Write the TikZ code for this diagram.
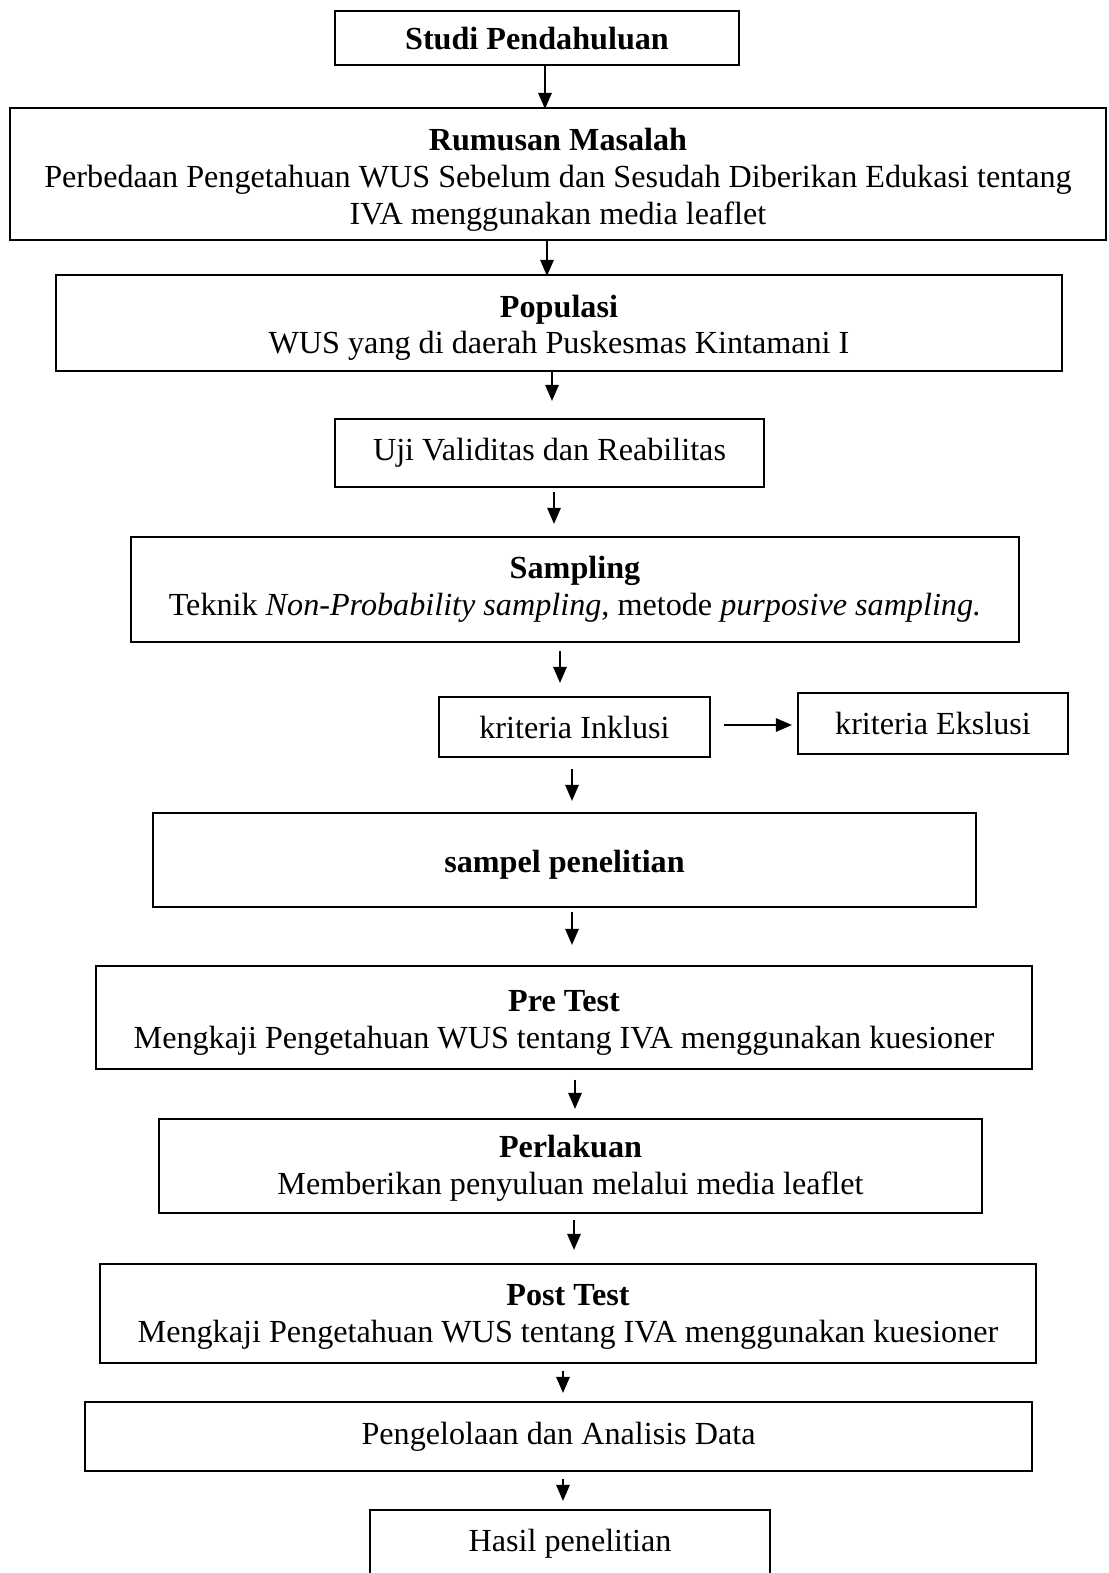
\documentclass[tikz,border=0pt]{standalone}
\usepackage{fontspec}
\setmainfont{Liberation Serif}
\usepackage{tikz}
\usetikzlibrary{arrows.meta,positioning}

\def\unitpx{0.373pt}
% teks di dalam kotak sedikit diturunkan
\newcommand\turun[2][1.9pt]{\raisebox{-#1}[\height][\depth]{\begin{tabular}{@{}c@{}}#2\end{tabular}}}

\tikzset{
  box/.style = {draw, line width=0.7pt, align=center, inner sep=0pt},
  arr/.style = {-{Triangle[length=6pt,width=5pt]}, line width=0.7pt}
}

\begin{document}
\begin{tikzpicture}[x=0.373pt, y=-0.373pt, font=\fontsize{12}{13.8}\selectfont]
\clip (0,0) rectangle (1109,1573);

\node[box, minimum width=404*\unitpx, minimum height=54*\unitpx] (studi) at (537,38)
  {\turun[1.5pt]{\textbf{Studi Pendahuluan}}};
\node[box, minimum width=1096*\unitpx, minimum height=132*\unitpx] (rumusan) at (558,174)
  {\turun[2.2pt]{\textbf{Rumusan Masalah}\\
   Perbedaan Pengetahuan WUS Sebelum dan Sesudah Diberikan Edukasi tentang\\
   IVA menggunakan media leaflet}};
\node[box, minimum width=1006*\unitpx, minimum height=96*\unitpx] (populasi) at (559,323)
  {\turun{\textbf{Populasi}\\ WUS yang di daerah Puskesmas Kintamani I}};
\node[box, minimum width=429*\unitpx, minimum height=68*\unitpx] (uji) at (549.5,453)
  {Uji Validitas dan Reabilitas};
\node[box, minimum width=888*\unitpx, minimum height=105*\unitpx] (sampling) at (575,589.5)
  {\textbf{Sampling}\\ Teknik \textit{Non-Probability sampling}, metode \textit{purposive sampling.}};
\node[box, minimum width=271*\unitpx, minimum height=60*\unitpx] (inklusi) at (574.5,727)
  {kriteria Inklusi};
\node[box, minimum width=270*\unitpx, minimum height=61*\unitpx] (ekslusi) at (933,723.5)
  {kriteria Ekslusi};
\node[box, minimum width=823*\unitpx, minimum height=94*\unitpx] (sampel) at (564.5,860)
  {\turun{\textbf{sampel penelitian}}};
\node[box, minimum width=936*\unitpx, minimum height=103*\unitpx] (pretest) at (564,1017.5)
  {\turun{\textbf{Pre Test}\\ Mengkaji Pengetahuan WUS tentang IVA menggunakan kuesioner}};
\node[box, minimum width=823*\unitpx, minimum height=94*\unitpx] (perlakuan) at (570.5,1166)
  {\turun[1.1pt]{\textbf{Perlakuan}\\ Memberikan penyuluan melalui media leaflet}};
\node[box, minimum width=936*\unitpx, minimum height=99*\unitpx] (posttest) at (568,1313.5)
  {\turun[1.1pt]{\textbf{Post Test}\\ Mengkaji Pengetahuan WUS tentang IVA menggunakan kuesioner}};
\node[box, minimum width=947*\unitpx, minimum height=69*\unitpx] (olah) at (558.5,1436.5)
  {Pengelolaan dan Analisis Data};
\node[box, anchor=north, minimum width=400*\unitpx, text height=9pt, text depth=40pt,
  inner ysep=6.6pt] (hasil) at (570,1509) {Hasil penelitian};

% alur
\draw[arr] (studi.south) ++(8,0) -- ++(0,43);
\draw[arr] (rumusan.south) ++(-11,0) -- ++(0,35);
\draw[arr] (populasi.south) ++(-7,-2) -- ++(0,31);
\draw[arr] (uji.south) ++(4.5,4) -- ++(0,32);
\draw[arr] (sampling.south) ++(-15,8) -- ++(0,32);
\draw[arr] (inklusi.east) ++(13,-2) -- ++(68,0);
\draw[arr] (inklusi.south) ++(-2.5,11) -- ++(0,32);
\draw[arr] (sampel.south) ++(7.5,4) -- ++(0,33);
\draw[arr] (pretest.south) ++(11,10) -- ++(0,29);
\draw[arr] (perlakuan.south) ++(3.5,6) -- ++(0,30);
\draw[arr] (posttest.south) ++(-5,7) -- ++(0,22);
\draw[arr] (olah.south) ++(4.5,7) -- ++(0,22);
\end{tikzpicture}
\end{document}
